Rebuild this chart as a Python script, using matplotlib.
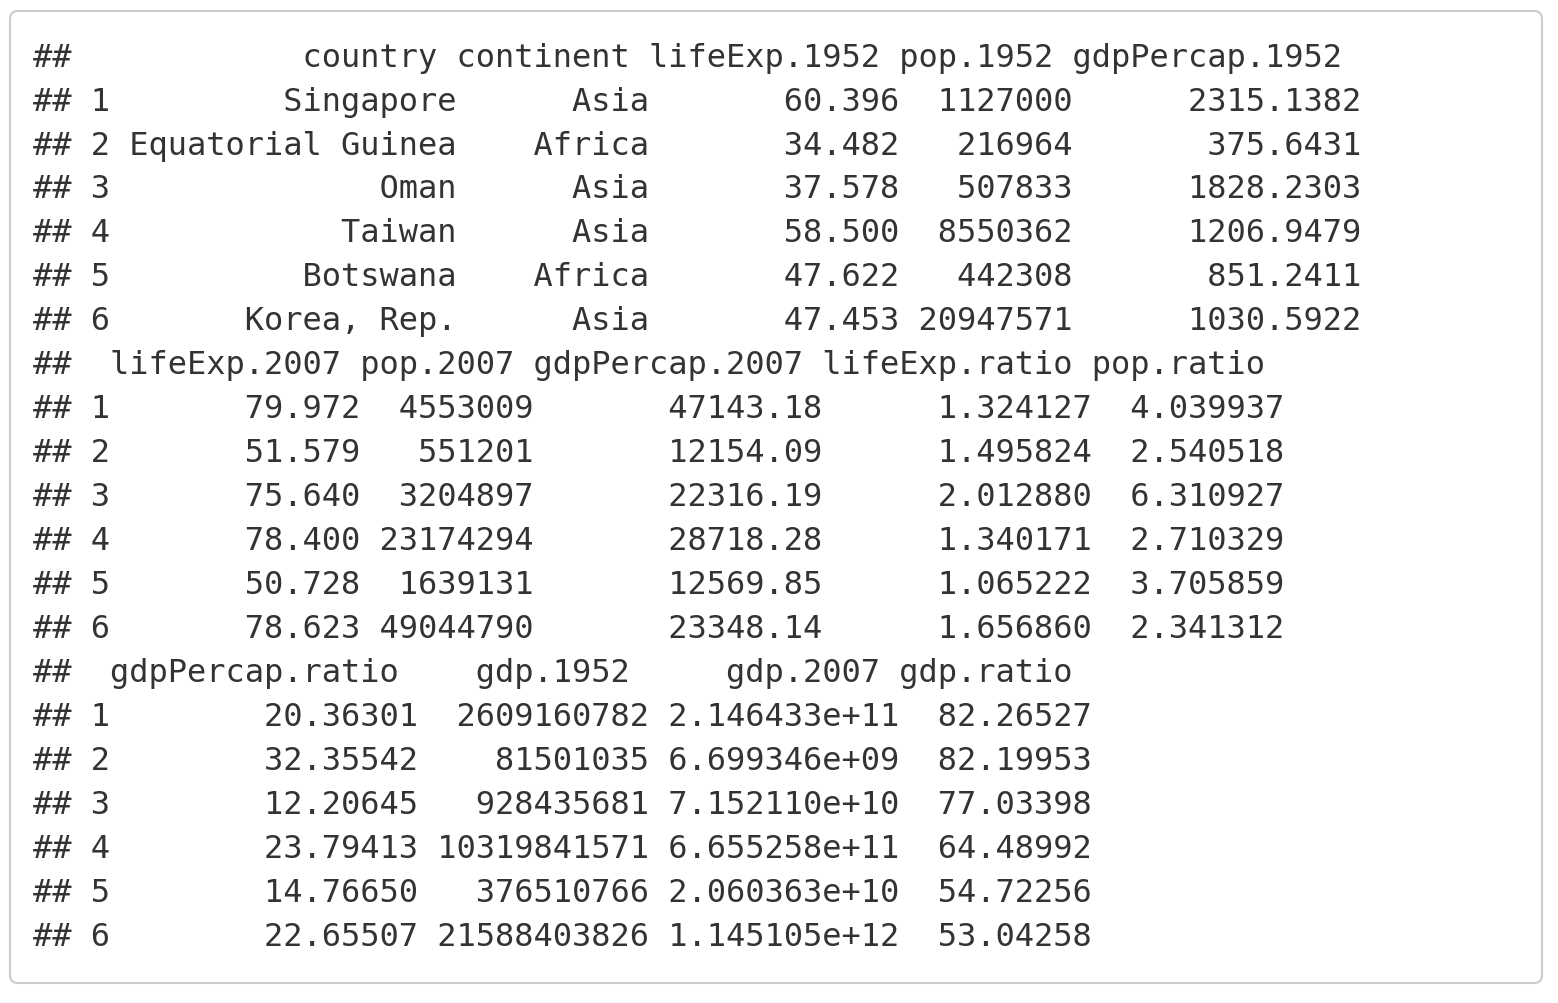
import matplotlib
matplotlib.use("Agg")
import matplotlib.pyplot as plt
from matplotlib.patches import FancyBboxPatch

country = ["Singapore", "Equatorial Guinea", "Oman", "Taiwan", "Botswana", "Korea, Rep."]
continent = ["Asia", "Africa", "Asia", "Asia", "Africa", "Asia"]
lifeExp_1952 = ["60.396", "34.482", "37.578", "58.500", "47.622", "47.453"]
pop_1952 = ["1127000", "216964", "507833", "8550362", "442308", "20947571"]
gdpPercap_1952 = ["2315.1382", "375.6431", "1828.2303", "1206.9479", "851.2411", "1030.5922"]
lifeExp_2007 = ["79.972", "51.579", "75.640", "78.400", "50.728", "78.623"]
pop_2007 = ["4553009", "551201", "3204897", "23174294", "1639131", "49044790"]
gdpPercap_2007 = ["47143.18", "12154.09", "22316.19", "28718.28", "12569.85", "23348.14"]
lifeExp_ratio = ["1.324127", "1.495824", "2.012880", "1.340171", "1.065222", "1.656860"]
pop_ratio = ["4.039937", "2.540518", "6.310927", "2.710329", "3.705859", "2.341312"]
gdpPercap_ratio = ["20.36301", "32.35542", "12.20645", "23.79413", "14.76650", "22.65507"]
gdp_1952 = ["2609160782", "81501035", "928435681", "10319841571", "376510766", "21588403826"]
gdp_2007 = ["2.146433e+11", "6.699346e+09", "7.152110e+10", "6.655258e+11", "2.060363e+10", "1.145105e+12"]
gdp_ratio = ["82.26527", "82.19953", "77.03398", "64.48992", "54.72256", "53.04258"]

blocks = [
    [("country", country), ("continent", continent), ("lifeExp.1952", lifeExp_1952),
     ("pop.1952", pop_1952), ("gdpPercap.1952", gdpPercap_1952)],
    [("lifeExp.2007", lifeExp_2007), ("pop.2007", pop_2007), ("gdpPercap.2007", gdpPercap_2007),
     ("lifeExp.ratio", lifeExp_ratio), ("pop.ratio", pop_ratio)],
    [("gdpPercap.ratio", gdpPercap_ratio), ("gdp.1952", gdp_1952), ("gdp.2007", gdp_2007),
     ("gdp.ratio", gdp_ratio)],
]

lines = []
n = len(country)
for block in blocks:
    widths = [max(len(name), max(len(v) for v in vals)) for name, vals in block]
    lines.append("##  " + " ".join(name.rjust(w) for (name, _), w in zip(block, widths)))
    for i in range(n):
        lines.append("## " + str(i + 1) + " " +
                     " ".join(vals[i].rjust(w) for (_, vals), w in zip(block, widths)))

W, H = 1558, 1004
fig = plt.figure(figsize=(W / 100, H / 100), dpi=100)
ax = fig.add_axes([0, 0, 1, 1])
ax.set_xlim(0, W)
ax.set_ylim(H, 0)
ax.axis("off")

ax.add_patch(FancyBboxPatch((10, 12), 1532, 972, boxstyle="round,pad=0,rounding_size=8",
                            facecolor="white", edgecolor="#cccccc", linewidth=1.5))

for k, line in enumerate(lines):
    ax.text(33, 58 + 44 * k, line, family="DejaVu Sans Mono", fontsize=23,
            color="#333333", va="center", ha="left")

fig.savefig("out.png", dpi=100)
